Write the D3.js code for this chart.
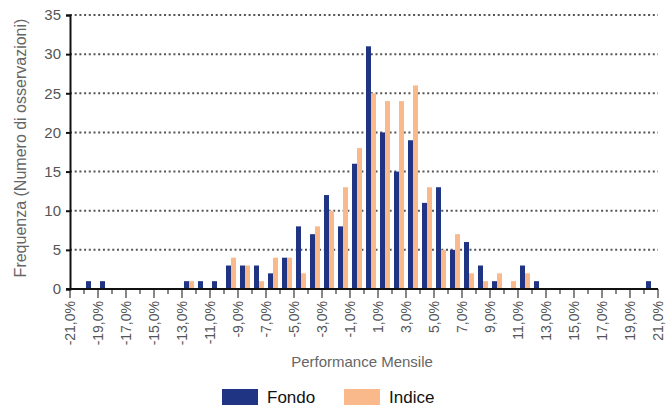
<!DOCTYPE html>
<html>
<head>
<meta charset="utf-8">
<script src="https://cdn.jsdelivr.net/npm/d3@7"></script>
<style>
  body { margin: 0; background: #fff; }
  svg { display: block; font-family: "Liberation Sans", Arial, sans-serif; }
</style>
</head>
<body>
<svg id="chart" width="672" height="408"></svg>
<script>
// bin start (%) : each bin covers [start, start+1]
const bins = d3.range(-21, 21);
const fondo = [0, 1, 1, 0, 0, 0, 0, 0, 1, 1, 1, 3, 3, 3, 2, 4, 8, 7, 12, 8, 16, 31,
  20, 15, 19, 11, 13, 5, 6, 3, 1, 0, 3, 1, 0, 0, 0, 0, 0, 0, 0, 1];
const indice = [0, 0, 0, 0, 0, 0, 0, 0, 1, 0, 0, 4, 3, 1, 4, 4, 2, 8, 10, 13, 18, 25,
  24, 24, 26, 13, 5, 7, 2, 1, 2, 1, 2, 0, 0, 0, 0, 0, 0, 0, 0, 0];
const xTicks = d3.range(-21, 22, 2);
const yTicks = [0, 5, 10, 15, 20, 25, 30, 35];
const series = [
  { name: "Fondo", values: fondo, color: "#1f3482" },
  { name: "Indice", values: indice, color: "#f9b98b" }
];

const svg = d3.select("#chart");
const mLeft = 70, mRight = 658, mTop = 15, mBottom = 289;

const x = d3.scaleLinear().domain([-21, 21]).range([mLeft, mRight]);
const y = d3.scaleLinear().domain([0, 35]).range([mBottom, mTop]);

// gridlines
svg.append("g").selectAll("line")
  .data(yTicks.filter(d => d > 0))
  .join("line")
  .attr("x1", mLeft).attr("x2", mRight)
  .attr("y1", d => y(d)).attr("y2", d => y(d))
  .attr("stroke", "#555").attr("stroke-width", 2)
  .attr("stroke-dasharray", "2,2.7");

// bars
const inner = d3.scaleBand().domain(series.map(s => s.name)).range([2, 12]);
series.forEach(s => {
  svg.append("g").selectAll("rect")
    .data(bins.map((b, i) => ({ b, v: s.values[i] })).filter(d => d.v > 0))
    .join("rect")
    .attr("x", d => x(d.b) + inner(s.name))
    .attr("width", inner.bandwidth())
    .attr("y", d => y(d.v))
    .attr("height", d => mBottom - y(d.v))
    .attr("fill", s.color);
});

// y axis
const yAxis = svg.append("g")
  .attr("transform", `translate(${mLeft},0)`)
  .call(d3.axisLeft(y).tickValues(yTicks).tickSize(4).tickPadding(5));
yAxis.select(".domain").attr("stroke", "#111").attr("stroke-width", 2);
yAxis.selectAll(".tick line").attr("stroke", "#111").attr("stroke-width", 2);
yAxis.selectAll("text").attr("font-size", 15).attr("fill", "#555")
  .attr("font-family", "Liberation Sans, Arial, sans-serif");

// x axis minor ticks
svg.append("g").selectAll("line")
  .data(d3.range(-21, 22))
  .join("line")
  .attr("x1", d => x(d)).attr("x2", d => x(d))
  .attr("y1", mBottom).attr("y2", d => (d % 2 !== 0 ? mBottom + 9 : mBottom + 5))
  .attr("stroke", "#111").attr("stroke-width", 1);

const fmt = d => d3.format(".1f")(d).replace(".", ",").replace("−", "-") + "%";
const xAxis = svg.append("g")
  .attr("transform", `translate(0,${mBottom})`)
  .call(d3.axisBottom(x).tickValues(xTicks).tickSize(0).tickFormat(fmt));
xAxis.select(".domain").attr("stroke", "#111").attr("stroke-width", 2)
  .attr("d", `M${mLeft - 4},0H${mRight}`);
xAxis.selectAll("text")
  .attr("font-size", 14).attr("fill", "#555")
  .attr("font-family", "Liberation Sans, Arial, sans-serif")
  .attr("transform", "rotate(-90)")
  .attr("text-anchor", "end")
  .attr("dy", "0.35em")
  .attr("x", -12).attr("y", 0);

// axis titles
svg.append("text")
  .attr("transform", `translate(26,${(mTop + mBottom) / 2 - 4}) rotate(-90)`)
  .attr("text-anchor", "middle")
  .attr("font-size", 16).attr("fill", "#666")
  .text("Frequenza (Numero di osservazioni)");

svg.append("text")
  .attr("x", 362).attr("y", 367)
  .attr("text-anchor", "middle")
  .attr("font-size", 15).attr("fill", "#666")
  .text("Performance Mensile");

// legend
const legend = svg.append("g");
const legendX = [222, 344];
series.forEach((s, i) => {
  legend.append("rect")
    .attr("x", legendX[i]).attr("y", 389)
    .attr("width", 36).attr("height", 16)
    .attr("fill", s.color);
  legend.append("text")
    .attr("x", legendX[i] + 45).attr("y", 403)
    .attr("font-size", 17).attr("fill", "#111")
    .text(s.name);
});
</script>
</body>
</html>
